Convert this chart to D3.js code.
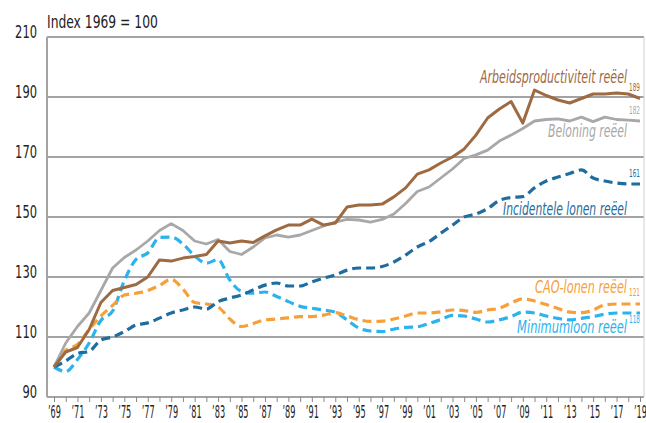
<html>

<head>
    <script src="https://d3js.org/d3.v7.min.js"></script>
    <style>
        body { margin: 0; background: #fff; }
        svg text { font-family: "DejaVu Sans", sans-serif; }
    </style>
</head>

<body>
    <div id="chart">
        <svg width="646" height="423"></svg>
    </div>
    <script>
        // years on the category axis
        var years = [1969, 1970, 1971, 1972, 1973, 1974, 1975, 1976, 1977, 1978,
            1979, 1980, 1981, 1982, 1983, 1984, 1985, 1986, 1987, 1988,
            1989, 1990, 1991, 1992, 1993, 1994, 1995, 1996, 1997, 1998,
            1999, 2000, 2001, 2002, 2003, 2004, 2005, 2006, 2007, 2008,
            2009, 2010, 2011, 2012, 2013, 2014, 2015, 2016, 2017, 2018, 2019]

        var arbeid = [100, 105, 106.5, 112.5, 121.5, 125.5, 126.5, 127.5, 130, 135.7,
            135.3, 136.3, 136.8, 137.5, 142, 141.3, 142, 141.5, 143.7, 145.7,
            147.3, 147.3, 149.3, 147.3, 148, 153.3, 154, 154, 154.3, 156.7,
            159.7, 164.3, 165.7, 168, 170, 172.7, 177.3, 183, 186, 188.5,
            181.3, 192.3, 190.5, 189, 188, 189.5, 191, 191, 191.3, 191, 189.5]

        var beloning = [100, 108, 113.5, 118, 125.5, 133, 136.5, 139, 142, 145.5,
            147.8, 145.5, 142, 141, 142.5, 138.5, 137.5, 140, 143, 144,
            143.3, 144, 145.5, 147, 148.3, 149.2, 149, 148.3, 149.2, 151,
            154.5, 158.5, 160, 163, 166, 169.5, 170.7, 172.3, 175.3, 177.3,
            179.5, 182, 182.5, 182.7, 182, 183.3, 181.8, 183.3, 182.5, 182.3, 182]

        var incidenteel = [100, 102, 104.5, 105.2, 109, 110, 111.8, 114, 114.7, 116.3,
            118, 119, 120, 119.3, 121.8, 123, 124, 125.7, 127.3, 128,
            127, 127, 128.4, 129.6, 130.7, 132.3, 133, 133, 133.5, 135,
            137.3, 140, 141.8, 144.6, 147.3, 150, 151, 152.8, 155.5, 156.5,
            156.8, 159.7, 162, 163.3, 164.5, 165.7, 163, 162, 161.3, 161, 161]

        var cao = [100, 105.5, 107.5, 112.5, 117, 120.5, 124, 124.6, 125.5, 127.2,
            129.2, 126, 121.5, 121, 120, 116, 113.5, 114.5, 115.7, 116,
            116.4, 116.8, 116.8, 117.3, 118.1, 117, 115.8, 115.2, 115.3, 116,
            117, 118, 118, 118.4, 119, 118.8, 118.2, 119, 119.6, 121.3,
            122.7, 122, 120.8, 119.5, 118.3, 118.1, 119, 120.7, 121, 121, 121]

        var minimum = [100, 98.5, 102.5, 108, 115.5, 118.6, 128.8, 135.9, 138, 143.2,
            143.3, 141, 137, 134.6, 135.8, 129, 125.2, 124.6, 125, 123.5,
            121.8, 120.2, 119.6, 119, 118.3, 115.7, 113, 112, 111.8, 112.6,
            113.2, 113.4, 114.5, 115.8, 117.2, 117, 116, 115, 115.7, 116.8,
            118.3, 118, 117, 116.2, 115.7, 116.2, 116.8, 117.6, 118, 118, 118]

        var yTicks = [90, 110, 130, 150, 170, 190, 210]
        var endLabels = ['189', '182', '161', '121', '118']
        var seriesNames = ['Arbeidsproductiviteit reëel', 'Beloning reëel', 'Incidentele lonen reëel',
            'CAO-lonen reëel', 'Minimumloon reëel']

        var svg = d3.select('#chart svg')

        var xScale = d3.scaleLinear()
            .domain([1969, 2019])
            .range([54, 640])

        var yScale = d3.scaleLinear()
            .domain([90, 210])
            .range([397, 37])

        // squeeze a text horizontally so it gets the narrow look of the original font
        // anchor: 'start' | 'middle' | 'end'
        function narrowText(sel, x, y, width, anchor) {
            var node = sel.node()
            var len = node.getComputedTextLength()
            var sx = width / len
            sel.attr('x', 0).attr('y', 0)
                .attr('text-anchor', anchor)
                .attr('transform', 'translate(' + x + ',' + y + ') scale(' + sx + ',1)')
        }

        // grid lines
        svg.selectAll('line.grid')
            .data(yTicks)
            .enter()
            .append('line')
            .classed('grid', true)
            .attr('x1', 47)
            .attr('x2', 644)
            .attr('y1', function(d) { return yScale(d) })
            .attr('y2', function(d) { return yScale(d) })
            .style('stroke', '#a3a3a3')
            .style('stroke-width', 2)

        // left axis line + right frame line
        svg.append('line')
            .attr('x1', 47).attr('x2', 47)
            .attr('y1', yScale(210)).attr('y2', yScale(90))
            .style('stroke', '#a3a3a3').style('stroke-width', 2)
        svg.append('line')
            .attr('x1', 644).attr('x2', 644)
            .attr('y1', yScale(210)).attr('y2', yScale(90))
            .style('stroke', '#d0d0d0').style('stroke-width', 1)

        // y labels
        var yAxis = d3.axisLeft(yScale)
            .tickValues(yTicks)
            .tickSize(0)
            .tickFormat(function(d) { return d })
        var yg = svg.append('g')
            .classed('yaxis', true)
            .call(yAxis)
        yg.select('.domain').remove()
        yg.selectAll('.tick').attr('transform', null)
        yg.selectAll('.tick text')
            .style('font-size', '17px')
            .style('fill', '#222')
            .attr('dy', null)
            .each(function(d) {
                var w = String(d).length * 7.3
                narrowText(d3.select(this), 37, yScale(d) + 1, w, 'end')
            })

        // x axis: tick every year, label every 2nd year
        var xAxis = d3.axisBottom(xScale)
            .tickValues(years)
            .tickSize(5)
            .tickFormat(function(d, i) {
                return i % 2 === 0 ? '\u2019' + String(d).slice(2) : ''
            })
        var xg = svg.append('g')
            .classed('xaxis', true)
            .attr('transform', 'translate(0, 397)')
            .call(xAxis)
        xg.select('.domain').remove()
        xg.selectAll('line').style('stroke', '#888')
        xg.selectAll('.tick text')
            .style('font-size', '17px')
            .style('fill', '#222')
            .attr('dy', null)
            .each(function(d, i) {
                if (i % 2 === 0) narrowText(d3.select(this), 0, 21, 13, 'middle')
            })

        var title = svg.append('text')
            .style('font-size', '18px')
            .style('fill', '#222')
            .text('Index 1969 = 100')
        narrowText(title, 47, 28, 111, 'start')

        var series = [
            { values: arbeid, color: '#9e6a42', dash: null, width: 3, curve: d3.curveLinear },
            { values: beloning, color: '#a8a8a8', dash: null, width: 2.8, curve: d3.curveLinear },
            { values: incidenteel, color: '#1e6d9e', dash: '9,5', width: 3.2, curve: d3.curveMonotoneX },
            { values: cao, color: '#f7a03a', dash: '9,5', width: 3.2, curve: d3.curveMonotoneX },
            { values: minimum, color: '#2ab3ec', dash: '9,5', width: 3.2, curve: d3.curveMonotoneX }
        ]

        // draw the lowest ones first
        var drawOrder = [4, 3, 2, 1, 0]
        drawOrder.forEach(function(k) {
            var s = series[k]
            var line = d3.line()
                .x(function(d, i) { return xScale(years[i]) })
                .y(function(d) { return yScale(d) })
                .curve(s.curve)
            svg.append('path')
                .datum(s.values)
                .attr('d', line)
                .style('fill', 'none')
                .style('stroke', s.color)
                .style('stroke-width', s.width)
                .style('stroke-dasharray', s.dash)
                .style('stroke-linejoin', 'round')
        })

        // series names
        var nameY = [83, 137, 215, 293, 333]
        var nameW = [147, 79, 124, 92, 110]
        svg.selectAll('text.name')
            .data(seriesNames)
            .enter()
            .append('text')
            .classed('name', true)
            .style('font-size', '17px')
            .style('font-style', 'italic')
            .style('fill', function(d, i) { return series[i].color })
            .text(function(d) { return d })
            .each(function(d, i) {
                narrowText(d3.select(this), 627, nameY[i], nameW[i], 'end')
            })

        // end values
        var endY = [91, 114, 177, 296, 323]
        svg.selectAll('text.end')
            .data(endLabels)
            .enter()
            .append('text')
            .classed('end', true)
            .style('font-size', '11px')
            .style('fill', function(d, i) { return series[i].color })
            .text(function(d) { return d })
            .each(function(d, i) {
                narrowText(d3.select(this), 640, endY[i], 11, 'end')
            })
    </script>
</body>

</html>
